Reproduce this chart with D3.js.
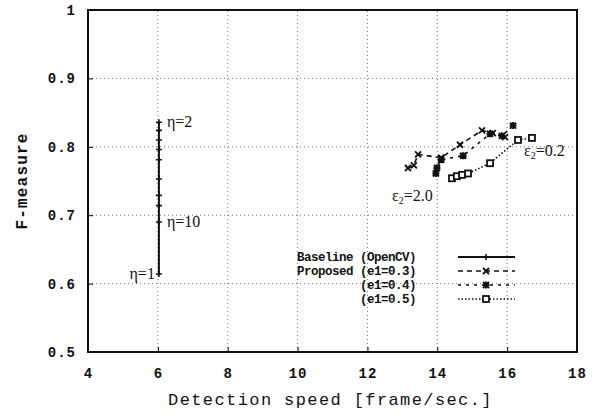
<!DOCTYPE html>
<html>
<head>
<meta charset="utf-8">
<script src="https://cdn.jsdelivr.net/npm/d3@7"></script>
<style>
  body { margin: 0; background: #fff; }
  svg text { fill: #111; }
  .tick text { font-family: "Liberation Mono", monospace; font-weight: bold; font-size: 14px; letter-spacing: 1px; }
  .grid line { stroke: #777; stroke-dasharray: 1,3; }
</style>
</head>
<body>
<div id="chart"></div>
<script>
// tick values
var xTicks = [4, 6, 8, 10, 12, 14, 16, 18];
var yTicks = [0.5, 0.6, 0.7, 0.8, 0.9, 1];

// baseline (OpenCV), eta = 1..10
var baseX = [6.03, 6.03, 6.03, 6.03, 6.03, 6.03, 6.03, 6.03, 6.03, 6.03];
var baseY = [0.614, 0.836, 0.824, 0.810, 0.796, 0.781, 0.753, 0.729, 0.714, 0.690];

// proposed, e2 = 2.0 ... 0.2
var p03X = [13.16, 13.33, 13.45, 14.11, 14.65, 15.28, 15.59, 15.94];
var p03Y = [0.769, 0.773, 0.789, 0.784, 0.803, 0.824, 0.820, 0.814];
var p04X = [13.96, 13.99, 14.11, 14.74, 15.51, 15.85, 16.17];
var p04Y = [0.761, 0.769, 0.781, 0.787, 0.819, 0.816, 0.831];
var p05X = [14.42, 14.56, 14.71, 14.88, 15.51, 16.31, 16.71];
var p05Y = [0.754, 0.757, 0.759, 0.761, 0.776, 0.810, 0.813];

var seriesNames = ["Baseline (OpenCV)", "Proposed (e1=0.3)", "(e1=0.4)", "(e1=0.5)"];

var width = 602, height = 417;
var margin = {top: 10, right: 25, bottom: 65, left: 88};

var svg = d3.select("#chart").append("svg").attr("width", width).attr("height", height);

var x = d3.scaleLinear().domain([4, 18]).range([margin.left, width - margin.right]);
var y = d3.scaleLinear().domain([0.5, 1]).range([height - margin.bottom, margin.top]);

// grid
svg.append("g").attr("class", "grid")
  .selectAll("line").data(xTicks.slice(1, -1)).enter().append("line")
    .attr("x1", function(d) { return x(d); }).attr("x2", function(d) { return x(d); })
    .attr("y1", y(0.5)).attr("y2", y(1));
svg.append("g").attr("class", "grid")
  .selectAll("line").data(yTicks.slice(1, -1)).enter().append("line")
    .attr("y1", function(d) { return y(d); }).attr("y2", function(d) { return y(d); })
    .attr("x1", x(4)).attr("x2", x(18));

// axes
svg.append("g").attr("transform", "translate(0," + y(0.5) + ")")
  .call(d3.axisBottom(x).tickValues(xTicks).tickSize(-5).tickPadding(16).tickFormat(d3.format("d")))
  .call(function(g) { g.select(".domain").remove(); });
svg.append("g").attr("transform", "translate(" + x(4) + ",0)")
  .call(d3.axisLeft(y).tickValues(yTicks).tickSize(-5).tickPadding(12)
    .tickFormat(function(d) { return d === 1 ? "1" : d3.format(".1f")(d); }))
  .call(function(g) { g.select(".domain").remove(); });

svg.append("rect")
  .attr("x", x(4)).attr("y", y(1))
  .attr("width", x(18) - x(4)).attr("height", y(0.5) - y(1))
  .attr("fill", "none").attr("stroke", "#111").attr("stroke-width", 2);

// axis titles
svg.append("text")
  .attr("x", (x(4) + x(18)) / 2 - 2).attr("y", 405)
  .attr("text-anchor", "middle")
  .style("font-family", "Liberation Mono, monospace").style("font-size", "17px")
  .style("letter-spacing", "1.4px")
  .text("Detection speed [frame/sec.]");
svg.append("text")
  .attr("transform", "translate(27," + (y(0.75)) + ") rotate(-90)")
  .attr("text-anchor", "middle")
  .style("font-family", "Liberation Mono, monospace").style("font-size", "16px").style("font-weight", "bold")
  .style("letter-spacing", "1.2px")
  .text("F-measure");

var line = d3.line().x(function(d) { return x(d[0]); }).y(function(d) { return y(d[1]); });

function zip(a, b) { return a.map(function(v, i) { return [v, b[i]]; }); }

var series = [
  {pts: zip(baseX, baseY), dash: null, mark: "plus"},
  {pts: zip(p03X, p03Y), dash: "5,4", mark: "cross"},
  {pts: zip(p04X, p04Y), dash: "3,5", mark: "star"},
  {pts: zip(p05X, p05Y), dash: "1.5,2", mark: "square"}
];

function drawMark(g, type, cx, cy) {
  if (type === "plus") {
    g.append("path").attr("d", "M" + (cx - 3) + "," + cy + "h6M" + cx + "," + (cy - 3) + "v6")
      .attr("stroke", "#111").attr("stroke-width", 1.6);
  } else if (type === "cross") {
    g.append("path").attr("d", "M" + (cx - 3) + "," + (cy - 3) + "l6,6M" + (cx - 3) + "," + (cy + 3) + "l6,-6")
      .attr("stroke", "#111").attr("stroke-width", 1.8);
  } else if (type === "star") {
    g.append("path").attr("d", "M" + (cx - 3.5) + "," + cy + "h7M" + cx + "," + (cy - 3.5) + "v7M" +
        (cx - 3) + "," + (cy - 3) + "l6,6M" + (cx - 3) + "," + (cy + 3) + "l6,-6")
      .attr("stroke", "#111").attr("stroke-width", 2);
  } else {
    g.append("rect").attr("x", cx - 3).attr("y", cy - 3).attr("width", 6).attr("height", 6)
      .attr("fill", "#fff").attr("stroke", "#111").attr("stroke-width", 1.8);
  }
}

series.forEach(function(s) {
  var g = svg.append("g");
  g.append("path").datum(s.pts).attr("d", line)
    .attr("fill", "none").attr("stroke", "#111").attr("stroke-width", s.dash ? 1.6 : 2)
    .attr("stroke-dasharray", s.dash);
  s.pts.forEach(function(p) { drawMark(g, s.mark, x(p[0]), y(p[1])); });
});

// legend
var legY = [257, 271, 285, 299];
seriesNames.forEach(function(name, i) {
  svg.append("text")
    .attr("x", 416).attr("y", legY[i] + 4).attr("text-anchor", "end")
    .style("font-family", "Liberation Mono, monospace").style("font-size", "12.5px").style("font-weight", "bold")
    .style("letter-spacing", "-0.5px")
    .text(name);
  var g = svg.append("g");
  g.append("line").attr("x1", 458).attr("x2", 515).attr("y1", legY[i]).attr("y2", legY[i])
    .attr("stroke", "#111").attr("stroke-width", series[i].dash ? 1.6 : 2)
    .attr("stroke-dasharray", series[i].dash);
  drawMark(g, series[i].mark, 486, legY[i]);
});

// annotations
var serif = "Liberation Serif, serif";
function note(txt, sub, rest, px, py, anchor) {
  var t = svg.append("text").attr("x", px).attr("y", py).attr("text-anchor", anchor || "start")
    .style("font-family", serif).style("font-size", "16px");
  t.append("tspan").text(txt);
  if (sub) t.append("tspan").attr("dy", 3).style("font-size", "10px").text(sub);
  t.append("tspan").attr("dy", sub ? -3 : 0).text(rest);
}
note("η", null, "=2", x(6.03) + 8, y(0.836) + 5);
note("η", null, "=10", x(6.03) + 8, y(0.690) + 5);
note("η", null, "=1", x(6.03) - 4, y(0.614) + 5, "end");
note("ε", "2", "=0.2", 524, 156);
note("ε", "2", "=2.0", 392, 201);
</script>
</body>
</html>
